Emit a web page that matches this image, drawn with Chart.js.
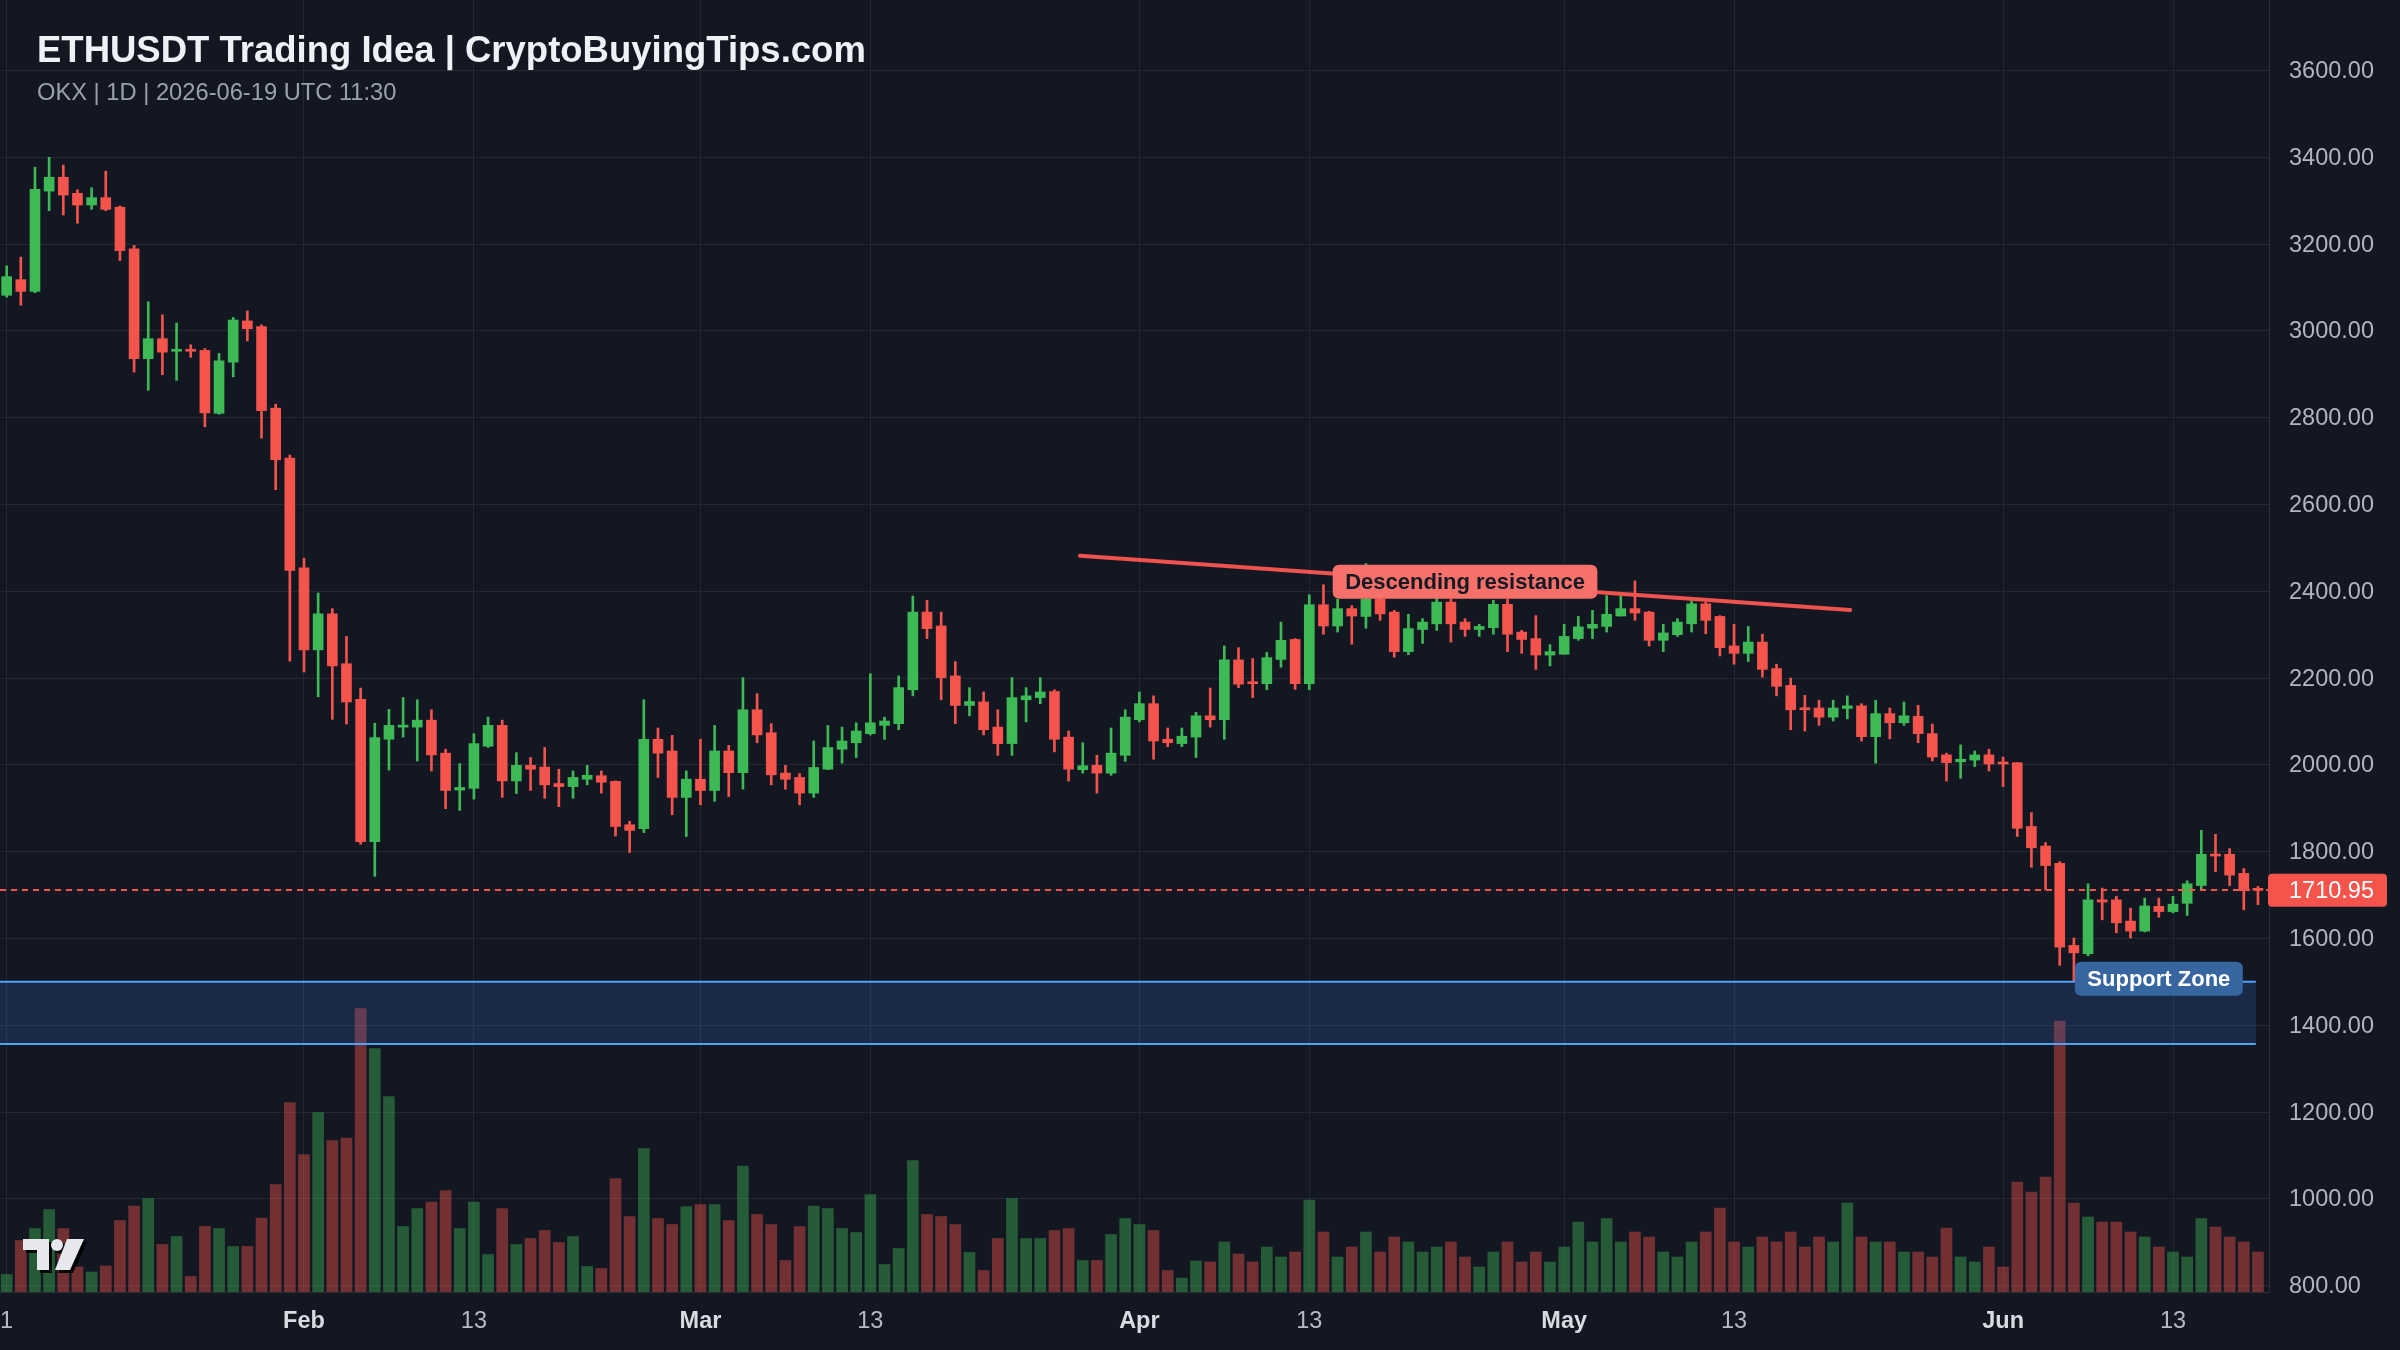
<!DOCTYPE html>
<html>
<head>
<meta charset="utf-8">
<title>ETHUSDT Trading Idea</title>
<script src="https://cdn.jsdelivr.net/npm/chart.js@4.4.1/dist/chart.umd.min.js"></script>
<style>
  html, body { margin: 0; padding: 0; background: #131722; }
  #wrap { width: 2400px; height: 1350px; }
</style>
</head>
<body>
<div id="wrap"><canvas id="chart" width="2400" height="1350"></canvas></div>
<script>
// daily ETHUSDT candles (Jan 11 .. Jun 19)
const opens = [
  3082, 3118, 3091, 3322, 3354, 3317, 3290, 3307, 3285, 3189,
  2936, 2982, 2953, 2955, 2955, 2810, 2928, 3023, 3010, 2822,
  2707, 2454, 2265, 2348, 2233, 2151, 1823, 2059, 2087, 2087,
  2103, 2027, 1942, 1946, 2043, 2091, 1963, 1999, 1995, 1957,
  1950, 1967, 1975, 1962, 1862, 1853, 2059, 2032, 1925, 1967,
  1941, 2032, 1982, 2127, 2074, 1981, 1971, 1935, 1990, 2036,
  2051, 2072, 2091, 2095, 2173, 2352, 2320, 2205, 2137, 2145,
  2087, 2049, 2150, 2155, 2169, 2064, 1989, 1999, 1981, 2022,
  2104, 2141, 2059, 2049, 2064, 2113, 2104, 2242, 2191, 2187,
  2243, 2289, 2187, 2369, 2320, 2360, 2342, 2382, 2352, 2261,
  2312, 2325, 2375, 2329, 2312, 2316, 2370, 2306, 2291, 2253,
  2255, 2291, 2315, 2319, 2343, 2360, 2352, 2287, 2300, 2325,
  2371, 2342, 2274, 2257, 2283, 2222, 2183, 2131, 2131, 2110,
  2130, 2136, 2065, 2118, 2097, 2112, 2072, 2023, 2007, 2011,
  2023, 2005, 2005, 1858, 1813, 1773, 1584, 1565, 1689, 1689,
  1640, 1617, 1674, 1662, 1681, 1722, 1794, 1794, 1750, 1712
];
const highs = [
  3150, 3170, 3377, 3400, 3382, 3325, 3330, 3368, 3288, 3197,
  3067, 3037, 3018, 2968, 2959, 2948, 3031, 3046, 3014, 2831,
  2714, 2476, 2396, 2360, 2296, 2177, 2096, 2128, 2155, 2150,
  2127, 2036, 2003, 2072, 2110, 2103, 2028, 2017, 2040, 1990,
  1986, 1999, 1986, 1963, 1870, 2150, 2085, 2068, 1986, 2059,
  2091, 2045, 2201, 2164, 2095, 1999, 1980, 2055, 2091, 2087,
  2097, 2210, 2110, 2205, 2389, 2379, 2352, 2238, 2178, 2168,
  2127, 2201, 2178, 2201, 2173, 2078, 2051, 2022, 2085, 2127,
  2168, 2159, 2085, 2085, 2121, 2177, 2274, 2270, 2245, 2259,
  2329, 2291, 2392, 2415, 2382, 2367, 2464, 2386, 2356, 2347,
  2337, 2390, 2382, 2337, 2324, 2379, 2382, 2310, 2344, 2277,
  2324, 2342, 2356, 2390, 2390, 2424, 2354, 2324, 2337, 2377,
  2375, 2344, 2324, 2319, 2301, 2232, 2200, 2160, 2149, 2149,
  2159, 2141, 2149, 2131, 2145, 2137, 2094, 2027, 2046, 2032,
  2036, 2018, 2005, 1890, 1821, 1777, 1601, 1726, 1716, 1697,
  1670, 1693, 1693, 1697, 1733, 1849, 1840, 1807, 1761, 1720
];
const lows = [
  3078, 3059, 3088, 3277, 3267, 3248, 3280, 3277, 3162, 2905,
  2863, 2899, 2886, 2939, 2779, 2808, 2894, 2977, 2753, 2634,
  2239, 2214, 2157, 2105, 2094, 1817, 1743, 1988, 2064, 2009,
  1986, 1899, 1895, 1921, 2040, 1925, 1934, 1941, 1923, 1904,
  1923, 1954, 1935, 1836, 1798, 1844, 1971, 1885, 1835, 1908,
  1916, 1927, 1944, 2051, 1954, 1944, 1908, 1925, 1989, 2004,
  2017, 2069, 2059, 2081, 2159, 2291, 2150, 2095, 2113, 2069,
  2022, 2022, 2099, 2141, 2030, 1963, 1981, 1935, 1976, 2008,
  2099, 2013, 2042, 2042, 2017, 2087, 2059, 2178, 2155, 2173,
  2225, 2174, 2173, 2301, 2306, 2278, 2315, 2333, 2248, 2254,
  2280, 2310, 2283, 2296, 2296, 2301, 2261, 2257, 2220, 2228,
  2255, 2287, 2291, 2306, 2343, 2333, 2274, 2261, 2296, 2306,
  2302, 2251, 2232, 2238, 2202, 2159, 2081, 2078, 2091, 2101,
  2106, 2055, 2004, 2060, 2091, 2051, 2009, 1963, 1969, 1996,
  1986, 1950, 1835, 1764, 1712, 1538, 1502, 1560, 1643, 1613,
  1601, 1615, 1649, 1659, 1653, 1712, 1754, 1722, 1666, 1678
];
const closes = [
  3125, 3091, 3326, 3354, 3313, 3290, 3307, 3280, 3185, 2936,
  2982, 2951, 2955, 2953, 2811, 2931, 3025, 3005, 2816, 2703,
  2448, 2265, 2348, 2228, 2145, 1823, 2063, 2091, 2091, 2103,
  2023, 1941, 1948, 2049, 2091, 1963, 1999, 1990, 1954, 1950,
  1971, 1976, 1960, 1858, 1849, 2059, 2027, 1925, 1967, 1941,
  2032, 1982, 2127, 2069, 1977, 1967, 1935, 1994, 2040, 2055,
  2078, 2097, 2101, 2178, 2352, 2314, 2201, 2137, 2146, 2081,
  2049, 2155, 2159, 2168, 2059, 1990, 1998, 1981, 2027, 2110,
  2141, 2055, 2051, 2066, 2113, 2104, 2242, 2186, 2187, 2247,
  2287, 2187, 2369, 2320, 2360, 2343, 2382, 2348, 2261, 2314,
  2329, 2375, 2325, 2312, 2319, 2370, 2301, 2289, 2253, 2261,
  2296, 2318, 2324, 2347, 2360, 2350, 2287, 2304, 2329, 2371,
  2333, 2270, 2257, 2283, 2220, 2181, 2127, 2127, 2110, 2131,
  2136, 2065, 2118, 2097, 2113, 2072, 2018, 2005, 2013, 2023,
  2002, 2002, 1854, 1809, 1768, 1580, 1567, 1689, 1684, 1636,
  1617, 1675, 1662, 1679, 1726, 1794, 1790, 1746, 1710, 1710.95
];
// volume in thousand ETH
const volumesK = [
  35, 103, 127, 165, 127, 50, 40, 52, 143, 172,
  187, 95, 111, 31, 131, 127, 91, 91, 148, 215,
  379, 275, 359, 303, 308, 567, 487, 391, 131, 167,
  180, 203, 127, 180, 75, 167, 95, 107, 123, 99,
  111, 51, 47, 227, 151, 287, 147, 135, 171, 175,
  175, 143, 252, 155, 135, 63, 131, 172, 167, 127,
  119, 195, 55, 87, 263, 155, 151, 135, 79, 43,
  107, 187, 107, 107, 123, 127, 63, 63, 115, 147,
  135, 123, 43, 28, 62, 60, 100, 76, 60, 90,
  70, 80, 184, 120, 70, 90, 120, 80, 110, 100,
  80, 90, 100, 70, 50, 80, 100, 60, 80, 60,
  90, 140, 100, 147, 100, 120, 110, 80, 70, 100,
  120, 168, 100, 90, 110, 100, 120, 90, 110, 100,
  178, 110, 100, 100, 80, 80, 70, 128, 70, 60,
  90, 50, 220, 200, 230, 542, 178, 150, 140, 140,
  120, 110, 90, 80, 70, 147, 130, 110, 100, 80
];

const tickPos = [0, 21, 33, 49, 61, 80, 92, 110, 122, 141, 153];
const tickText = ['1', 'Feb', '13', 'Mar', '13', 'Apr', '13', 'May', '13', 'Jun', '13'];
const monthNames = ['Feb', 'Mar', 'Apr', 'May', 'Jun'];
const priceTicks = [800, 1000, 1200, 1400, 1600, 1800, 2000, 2200, 2400, 2600, 2800, 3000, 3200, 3400, 3600];

const lastPrice = 1710.95;
const supportZone = [1357, 1500];
const resistance = [[75.8, 2482], [130.2, 2357]];

const GREEN = '#3dba55';
const RED = '#f5544d';
const BG = '#131722';
const GRID = '#232834';
const FONT = '"Liberation Sans", Arial, Helvetica, sans-serif';

const up = closes.map((c, i) => c >= opens[i]);

function roundRect(ctx, x, y, w, h, r) {
    ctx.beginPath();
    ctx.moveTo(x + r, y);
    ctx.lineTo(x + w - r, y);
    ctx.quadraticCurveTo(x + w, y, x + w, y + r);
    ctx.lineTo(x + w, y + h - r);
    ctx.quadraticCurveTo(x + w, y + h, x + w - r, y + h);
    ctx.lineTo(x + r, y + h);
    ctx.quadraticCurveTo(x, y + h, x, y + h - r);
    ctx.lineTo(x, y + r);
    ctx.quadraticCurveTo(x, y, x + r, y);
    ctx.closePath();
}

function tag(ctx, text, cx, cy, fill, color) {
    ctx.font = 'bold 22px ' + FONT;
    const w = ctx.measureText(text).width + 25;
    roundRect(ctx, cx - w / 2, cy - 17, w, 34, 7);
    ctx.fillStyle = fill;
    ctx.fill();
    ctx.fillStyle = color;
    ctx.textAlign = 'center';
    ctx.textBaseline = 'middle';
    ctx.fillText(text, cx, cy + 1);
}

const overlay = {
    id: 'overlay',
    beforeDraw(chart) {
        const ctx = chart.ctx;
        ctx.save();
        ctx.fillStyle = BG;
        ctx.fillRect(0, 0, chart.width, chart.height);
        ctx.restore();
    },
    afterDatasetsDraw(chart) {
        const {ctx, chartArea: a, scales: {x, y}} = chart;
        ctx.save();
        ctx.beginPath();
        ctx.rect(a.left, a.top, a.right - a.left, a.bottom - a.top);
        ctx.clip();

        // support zone
        const zx1 = x.getPixelForValue(158.85);
        const zt = y.getPixelForValue(supportZone[1]);
        const zb = y.getPixelForValue(supportZone[0]);
        ctx.fillStyle = 'rgba(56,110,200,0.22)';
        ctx.fillRect(a.left, zt, zx1 - a.left, zb - zt);
        ctx.strokeStyle = '#4da3ff';
        ctx.lineWidth = 2;
        ctx.beginPath();
        ctx.moveTo(a.left, zt); ctx.lineTo(zx1, zt);
        ctx.moveTo(a.left, zb); ctx.lineTo(zx1, zb);
        ctx.stroke();

        // current price line
        const py = Math.round(y.getPixelForValue(lastPrice));
        ctx.strokeStyle = RED;
        ctx.lineWidth = 2;
        ctx.setLineDash([6, 5]);
        ctx.beginPath();
        ctx.moveTo(a.left, py); ctx.lineTo(a.right, py);
        ctx.stroke();
        ctx.setLineDash([]);

        // descending resistance
        ctx.strokeStyle = '#f0524d';
        ctx.lineWidth = 4;
        ctx.lineCap = 'round';
        ctx.beginPath();
        ctx.moveTo(x.getPixelForValue(resistance[0][0]), y.getPixelForValue(resistance[0][1]));
        ctx.lineTo(x.getPixelForValue(resistance[1][0]), y.getPixelForValue(resistance[1][1]));
        ctx.stroke();

        const mx = (resistance[0][0] + resistance[1][0]) / 2;
        const my = (resistance[0][1] + resistance[1][1]) / 2;
        tag(ctx, 'Descending resistance', x.getPixelForValue(mx), y.getPixelForValue(my) - 1, '#f7716a', '#151924');
        tag(ctx, 'Support Zone', x.getPixelForValue(152), zt - 3, '#36659f', '#ffffff');
        ctx.restore();
    },
    afterDraw(chart) {
        const {ctx, chartArea: a, scales: {x, y}} = chart;
        ctx.save();

        // price axis labels
        ctx.font = '23.5px ' + FONT;
        ctx.fillStyle = '#b2b5be';
        ctx.textAlign = 'left';
        ctx.textBaseline = 'middle';
        priceTicks.forEach(v => ctx.fillText(v.toFixed(2), a.right + 20, y.getPixelForValue(v) + 1));

        // hide the part of the lowest price label under the time axis
        ctx.fillStyle = BG;
        ctx.fillRect(a.right + 1, a.bottom + 1, chart.width - a.right, chart.height - a.bottom);

        // time axis labels
        ctx.textAlign = 'center';
        tickPos.forEach((p, i) => {
            const month = monthNames.includes(tickText[i]);
            ctx.font = (month ? 'bold ' : '') + '23.5px ' + FONT;
            ctx.fillStyle = month ? '#d8dbe2' : '#b8bbc3';
            ctx.fillText(tickText[i], x.getPixelForValue(p), a.bottom + 30);
        });

        // last price tag on the axis
        const py = y.getPixelForValue(lastPrice);
        roundRect(ctx, a.right - 1, py - 16.5, 119, 33, 4);
        ctx.fillStyle = RED;
        ctx.fill();
        ctx.fillStyle = '#ffffff';
        ctx.font = '23.5px ' + FONT;
        ctx.textAlign = 'left';
        ctx.fillText(lastPrice.toFixed(2), a.right + 20, py + 1);

        // title block
        ctx.textBaseline = 'alphabetic';
        ctx.fillStyle = '#eef1f6';
        ctx.font = 'bold 36.5px ' + FONT;
        ctx.fillText('ETHUSDT Trading Idea | CryptoBuyingTips.com', 37, 62);
        ctx.fillStyle = '#9ba1ac';
        ctx.font = '23.7px ' + FONT;
        ctx.fillText('OKX | 1D | 2026-06-19 UTC 11:30', 37, 100);

        // TradingView-ish logo
        ctx.shadowColor = 'rgba(0,0,0,0.9)';
        ctx.shadowOffsetX = 3;
        ctx.shadowOffsetY = 3;
        ctx.fillStyle = '#e6e8ee';
        ctx.fillRect(23, 1239, 26, 11);
        ctx.fillRect(37, 1239, 12, 31);
        ctx.beginPath();
        ctx.arc(57, 1245, 6, 0, Math.PI * 2);
        ctx.fill();
        ctx.beginPath();
        ctx.moveTo(67, 1239); ctx.lineTo(84, 1239); ctx.lineTo(70, 1270); ctx.lineTo(55, 1270);
        ctx.closePath();
        ctx.fill();
        ctx.restore();
    }
};

Chart.defaults.font.family = FONT;

new Chart(document.getElementById('chart'), {
    data: {
        datasets: [{
            type: 'bar',
            data: opens.map((o, i) => ({x: i, y: [o, closes[i]]})),
            backgroundColor: up.map(u => u ? GREEN : RED),
            barThickness: 10,
            minBarLength: 2,
            grouped: false,
            order: 1,
            yAxisID: 'y'
        }, {
            type: 'bar',
            data: lows.map((l, i) => ({x: i, y: [l, highs[i]]})),
            backgroundColor: up.map(u => u ? GREEN : RED),
            barThickness: 2,
            grouped: false,
            order: 2,
            yAxisID: 'y'
        }, {
            type: 'bar',
            data: volumesK.map((v, i) => ({x: i, y: v})),
            backgroundColor: up.map(u => u ? 'rgba(61,186,85,0.42)' : 'rgba(245,84,77,0.42)'),
            barThickness: 11,
            grouped: false,
            order: 3,
            yAxisID: 'v'
        }]
    },
    options: {
        responsive: false,
        animation: false,
        devicePixelRatio: 1,
        layout: {padding: 0},
        plugins: {legend: {display: false}, tooltip: {enabled: false}},
        scales: {
            x: {
                type: 'linear',
                offset: false,
                min: -0.47,
                max: 159.78,
                afterBuildTicks: s => { s.ticks = tickPos.map(v => ({value: v})); },
                afterFit: s => { s.height = 58; },
                ticks: {display: false},
                grid: {color: GRID, drawTicks: false, offset: false},
                border: {color: '#2a2e39'}
            },
            y: {
                position: 'right',
                min: 785.4,
                max: 3762.4,
                afterBuildTicks: s => { s.ticks = priceTicks.map(v => ({value: v})); },
                afterFit: s => { s.width = 131; },
                ticks: {display: false},
                grid: {color: GRID, drawTicks: false},
                border: {color: '#2a2e39'}
            },
            v: {
                display: false,
                min: 0,
                max: 2584
            }
        }
    },
    plugins: [overlay]
});
</script>
</body>
</html>
